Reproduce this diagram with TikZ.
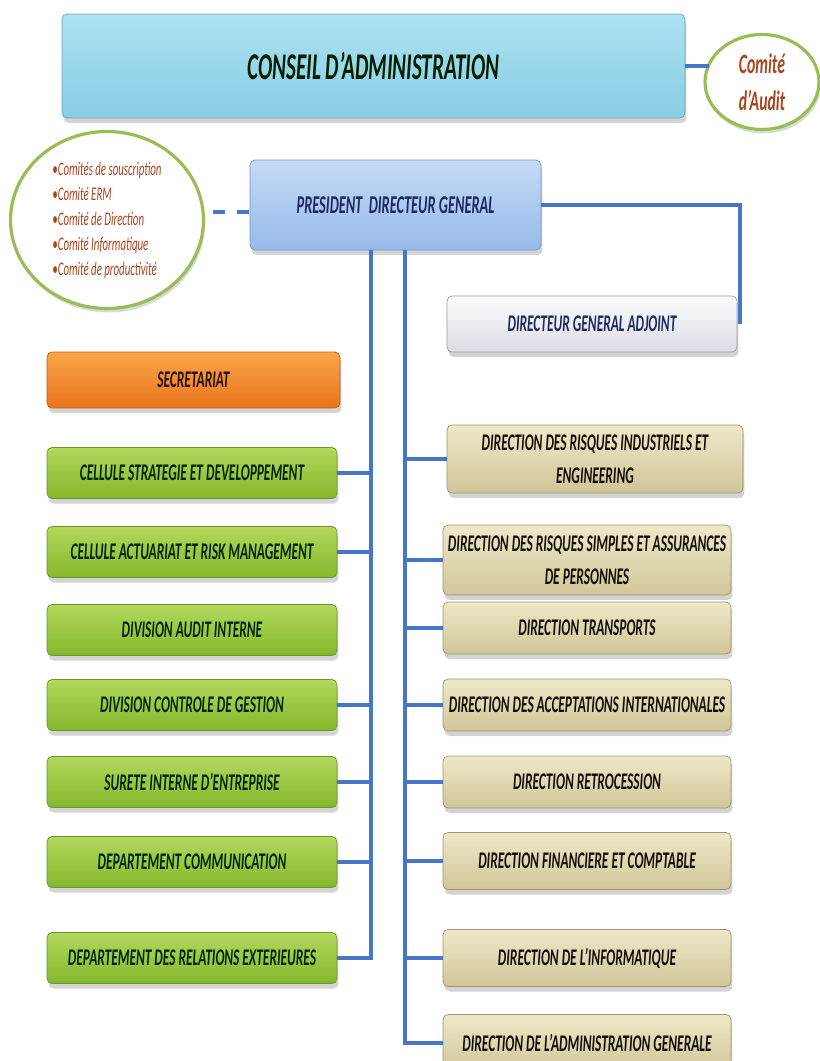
\documentclass[tikz,border=0pt]{standalone}
\usepackage{fontspec}
\setmainfont{Carlito}[FakeStretch=0.56, BoldFeatures={FakeBold=0.8}]
\usepackage{tkz-graph}
\usetikzlibrary{shapes}
\usetikzlibrary{shadows}

\definecolor{linkBlue}{RGB}{72,118,198}
\definecolor{councilTop}{RGB}{172,226,242}
\definecolor{councilBot}{RGB}{136,204,228}
\definecolor{presTop}{RGB}{196,218,246}
\definecolor{presBot}{RGB}{150,186,232}
\definecolor{deputyTop}{RGB}{252,252,253}
\definecolor{deputyBot}{RGB}{218,221,228}
\definecolor{secTop}{RGB}{250,165,75}
\definecolor{secBot}{RGB}{232,116,28}
\definecolor{greenTop}{RGB}{178,216,92}
\definecolor{greenBot}{RGB}{132,184,44}
\definecolor{tanTop}{RGB}{238,232,200}
\definecolor{tanBot}{RGB}{208,198,152}
\definecolor{ringGreen}{RGB}{150,190,82}
\definecolor{brownText}{RGB}{170,68,30}
\definecolor{navyText}{RGB}{30,40,92}

\begin{document}
\begin{tikzpicture}[x = 0.02cm, y = -0.02cm, font=\bfseries\itshape]
	\tikzstyle{VertexStyle} = []
	\tikzstyle{EdgeStyle} = [draw = linkBlue, line width = 2.8pt]
	\tikzstyle{boxStyle} = [shape = rectangle, rounded corners = 0.1cm, inner sep = 2pt, align = center, font = \fontsize{13.6}{19}\selectfont\bfseries\itshape, drop shadow = {shadow xshift = 0.03cm, shadow yshift = -0.1cm, opacity = 0.35}]
	\tikzstyle{councilStyle} = [boxStyle, draw = councilBot!80!black, top color = councilTop, bottom color = councilBot, minimum width = 12.46cm, minimum height = 2.08cm, text = black!80!green!60!black]
	\tikzstyle{presStyle} = [boxStyle, draw = presBot!80!black, top color = presTop, bottom color = presBot, minimum width = 5.82cm, minimum height = 1.8cm, text = navyText]
	\tikzstyle{deputyStyle} = [boxStyle, draw = deputyBot!70!black, top color = deputyTop, bottom color = deputyBot, minimum width = 5.8cm, minimum height = 1.12cm, text = navyText]
	\tikzstyle{secStyle} = [boxStyle, draw = secBot!80!black, top color = secTop, bottom color = secBot, minimum width = 5.86cm, minimum height = 1.12cm, text = black!85!orange]
	\tikzstyle{greenStyle} = [boxStyle, draw = greenBot!80!black, top color = greenTop, bottom color = greenBot, minimum width = 5.8cm, minimum height = 1.02cm, text = black!85!green]
	\tikzstyle{tanStyle} = [boxStyle, draw = tanBot!75!black, top color = tanTop, bottom color = tanBot, minimum width = 5.76cm, minimum height = 1.04cm, text = black!90!brown]
	\tikzstyle{ringStyle} = [shape = ellipse, draw = ringGreen, line width = 1.8pt, fill = white, inner sep = 0pt, drop shadow = {shadow xshift = 0.03cm, shadow yshift = -0.08cm, opacity = 0.3}]
	\tikzstyle{dashStyle} = [EdgeStyle, dash pattern = on 0.24cm off 0.24cm]
	\useasboundingbox (0,0) rectangle (819,1061);
	\Vertex[style = councilStyle, x = 373.5, y = 66, L = {\fontsize{21.5}{22}\selectfont CONSEIL D'ADMINISTRATION}]{conseil}
	\Vertex[style = {ringStyle, minimum width = 2.28cm, minimum height = 1.9cm, align = center, text = brownText, font = \fontsize{16}{21}\selectfont\bfseries\itshape}, x = 762, y = 82, L = {Comité\\d'Audit}]{audit}
	\Vertex[style = {ringStyle, minimum width = 3.86cm, minimum height = 3.54cm, align = left, text = brownText, font = \fontsize{11}{14.2}\selectfont\itshape}, x = 107, y = 220, L = {•Comités de souscription\\•Comité ERM\\•Comité de Direction\\•Comité Informatique\\•Comité de productivité}]{comites}
	\Vertex[style = presStyle, x = 395.5, y = 205, L = {\fontsize{14.6}{19}\selectfont PRESIDENT\ \ DIRECTEUR GENERAL}]{pdg}
	\Vertex[style = deputyStyle, x = 592, y = 324, L = {DIRECTEUR GENERAL ADJOINT}]{dga}
	\Vertex[style = secStyle, x = 193.5, y = 380, L = {SECRETARIAT}]{secretariat}
	\Vertex[style = greenStyle, x = 192, y = 473, L = {CELLULE STRATEGIE ET DEVELOPPEMENT}]{cellstrat}
	\Vertex[style = greenStyle, x = 192, y = 552, L = {CELLULE ACTUARIAT ET RISK MANAGEMENT}]{cellact}
	\Vertex[style = greenStyle, x = 192, y = 630, L = {DIVISION AUDIT INTERNE}]{audint}
	\Vertex[style = greenStyle, x = 192, y = 705, L = {DIVISION CONTROLE DE GESTION}]{ctrlgest}
	\Vertex[style = greenStyle, x = 192, y = 782, L = {SURETE INTERNE D'ENTREPRISE}]{surete}
	\Vertex[style = greenStyle, x = 192, y = 862, L = {DEPARTEMENT COMMUNICATION}]{deptcom}
	\Vertex[style = greenStyle, x = 192, y = 958, L = {DEPARTEMENT DES RELATIONS EXTERIEURES}]{relext}
	\Vertex[style = {tanStyle, minimum width = 5.92cm, minimum height = 1.36cm}, x = 595, y = 459, L = {DIRECTION DES RISQUES INDUSTRIELS ET\\ENGINEERING}]{rindus}
	\Vertex[style = {tanStyle, minimum height = 1.4cm}, x = 587, y = 560, L = {DIRECTION DES RISQUES SIMPLES ET ASSURANCES\\DE PERSONNES}]{rsimples}
	\Vertex[style = tanStyle, x = 587, y = 628, L = {DIRECTION TRANSPORTS}]{transports}
	\Vertex[style = tanStyle, x = 587, y = 705, L = {DIRECTION DES ACCEPTATIONS INTERNATIONALES}]{accept}
	\Vertex[style = tanStyle, x = 587, y = 782, L = {DIRECTION RETROCESSION}]{retro}
	\Vertex[style = {tanStyle, minimum height = 1.14cm}, x = 587, y = 861, L = {DIRECTION FINANCIERE ET COMPTABLE}]{finance}
	\Vertex[style = {tanStyle, minimum height = 1.14cm}, x = 587, y = 958, L = {DIRECTION DE L'INFORMATIQUE}]{info}
	\Vertex[style = {tanStyle, minimum height = 1.14cm}, x = 587, y = 1043, L = {DIRECTION DE L'ADMINISTRATION GENERALE}]{admin}
	\coordinate (jL1) at (371,473);
	\coordinate (jL2) at (371,552);
	\coordinate (jL3) at (371,705);
	\coordinate (jL4) at (371,782);
	\coordinate (jL5) at (371,862);
	\coordinate (jR1) at (405,459);
	\coordinate (jR2) at (405,560);
	\coordinate (jR3) at (405,628);
	\coordinate (jR4) at (405,705);
	\coordinate (jR5) at (405,782);
	\coordinate (jR6) at (405,861);
	\coordinate (jR7) at (405,958);
	\draw[EdgeStyle] (conseil.east) -- ([xshift = 0.08cm]audit.west |- conseil.east);
	\draw[dashStyle] ([xshift = 0.2cm, yshift = -0.14cm]comites.east |- pdg.west) -- ([yshift = -0.14cm]pdg.west);
	\draw[EdgeStyle] (pdg.east) -| ([xshift = 0.06cm]dga.east);
	\draw[EdgeStyle] (pdg.south -| jL1) |- (relext.east);
	\draw[EdgeStyle] (pdg.south -| jR1) |- (admin.west);
	\Edge(jL1)(cellstrat)
	\Edge(jL2)(cellact)
	\Edge(jL3)(ctrlgest)
	\Edge(jL4)(surete)
	\Edge(jL5)(deptcom)
	\Edge(jR1)(rindus)
	\Edge(jR2)(rsimples)
	\Edge(jR3)(transports)
	\Edge(jR4)(accept)
	\Edge(jR5)(retro)
	\Edge(jR6)(finance)
	\Edge(jR7)(info)
\end{tikzpicture}
\end{document}
